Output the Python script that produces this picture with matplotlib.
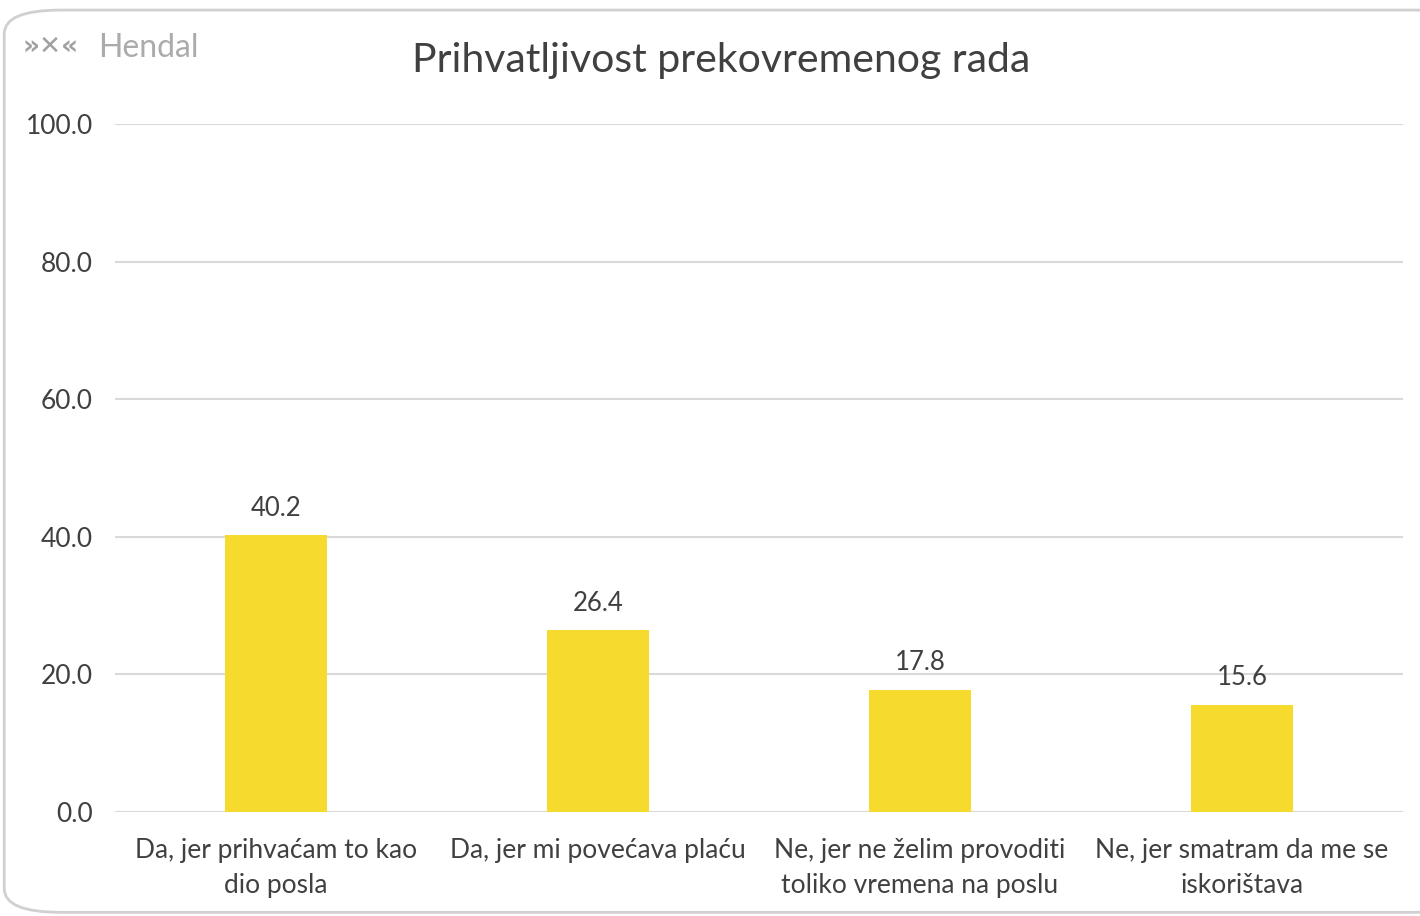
import matplotlib
matplotlib.use('Agg')
import matplotlib.pyplot as plt
from matplotlib.patches import FancyBboxPatch

categories = ['Da, jer prihvaćam to kao\ndio posla',
              'Da, jer mi povećava plaću',
              'Ne, jer ne želim provoditi\ntoliko vremena na poslu',
              'Ne, jer smatram da me se\niskorištava']
values = [40.2, 26.4, 17.8, 15.6]
yticks = [0, 20, 40, 60, 80, 100]

plt.rcParams['font.family'] = ['Lato', 'DejaVu Sans']
txt = '#404040'

fig = plt.figure(figsize=(14.2, 9.16), dpi=100)
# rounded outer frame
frame = FancyBboxPatch((0.003, 0.004), 1.05, 0.985, boxstyle='round,pad=0,rounding_size=0.04',
                       transform=fig.transFigure, facecolor='none', edgecolor='#D0D0D0', lw=2,
                       mutation_aspect=916/1420, zorder=0)
fig.patches.append(frame)

ax = fig.add_axes([0.081, 0.1135, 0.907, 0.7511])
x = range(len(categories))
bars = ax.bar(x, values, width=0.314, color='#F7DA2E', zorder=3)
for xi, v in zip(x, values):
    ax.text(xi, v + 2.1, '{:.1f}'.format(v), ha='center', va='bottom', fontsize=18.5, color=txt)

ax.set_xlim(-0.5, 3.5)
ax.set_ylim(0, 100)
ax.set_yticks(yticks)
ax.set_yticklabels(['{:.1f}'.format(t) for t in yticks], fontsize=19, color=txt)
ax.set_xticks(list(x))
ax.set_xticklabels(categories, fontsize=19, color=txt, linespacing=1.5)
ax.tick_params(length=0, pad=19)
ax.tick_params(axis='y', pad=16)
ax.grid(axis='y', color='#D9D9D9', lw=1.5, zorder=0)
for s in ax.spines.values():
    s.set_visible(False)
ax.set_facecolor('none')

fig.text(0.508, 0.934, 'Prihvatljivost prekovremenog rada', ha='center', va='center',
         fontsize=29.5, color=txt)

# logo
fig.text(0.016, 0.949, '»✕«', ha='left', va='center', fontsize=19, color='#A0A0A0',
         family='DejaVu Sans', fontweight='bold')
fig.text(0.069, 0.948, 'Hendal', ha='left', va='center', fontsize=23, color='#ABABAB')

fig.savefig('out.png', dpi=100)
